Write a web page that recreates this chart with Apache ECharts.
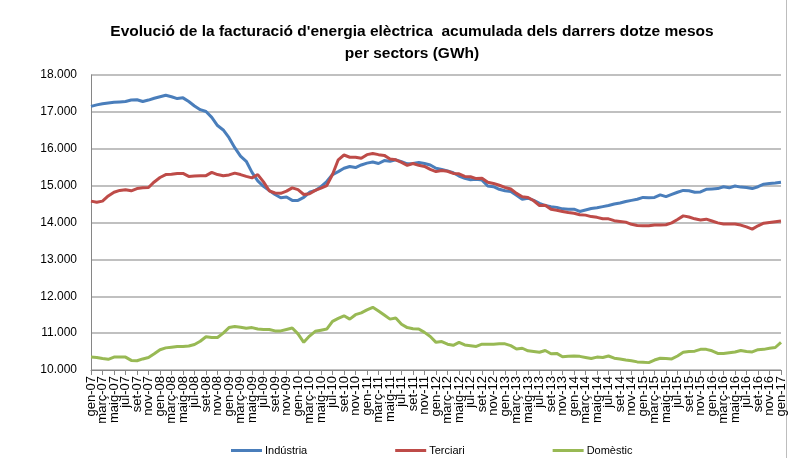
<!DOCTYPE html>
<html>
<head>
<meta charset="utf-8">
<script src="https://cdn.jsdelivr.net/npm/echarts@6/dist/echarts.min.js"></script>
<style>
html,body{margin:0;padding:0;background:#fff;}
#frame{position:absolute;left:0;top:0;width:787px;height:458px;border-right:1px solid #bdbdbd;box-sizing:border-box;}
#chart{position:absolute;left:0;top:0;width:790px;height:458px;}
</style>
</head>
<body>
<div id="frame"></div>
<div id="chart"></div>
<script>
// Month abbreviations (Catalan) and years for category labels
const monthNames = ['gen','febr','març','abr','maig','juny','jul','ag','set','oct','nov','des'];
const years = ['07','08','09','10','11','12','13','14','15','16','17'];
const categories = [];
years.forEach(function (y) {
  monthNames.forEach(function (m) {
    if (categories.length < 121) categories.push(m + '-' + y);
  });
});

const yTicks = [10000, 11000, 12000, 13000, 14000, 15000, 16000, 17000, 18000];

const industria = [
17150,17190,17220,17240,17260,17270,17280,17320,17330,17280,
17320,17370,17410,17450,17410,17360,17380,17280,17160,17060,
17010,16850,16630,16510,16300,16030,15800,15660,15360,15130,
14980,14870,14760,14670,14690,14600,14600,14680,14820,14870,
14970,15110,15300,15380,15470,15520,15490,15560,15610,15640,
15600,15680,15660,15700,15650,15590,15600,15630,15600,15560,
15470,15440,15400,15350,15260,15200,15160,15170,15150,14990,
14970,14900,14860,14840,14740,14630,14660,14600,14520,14460,
14430,14410,14370,14360,14360,14300,14340,14380,14400,14430,
14460,14500,14530,14570,14600,14630,14680,14670,14680,14750,
14700,14760,14820,14870,14860,14820,14830,14900,14910,14920,
14970,14940,14990,14960,14950,14920,14970,15040,15060,15070,
15090];

const terciari = [
14580,14550,14580,14720,14820,14870,14890,14860,14920,14940,
14950,15100,15220,15300,15310,15330,15330,15250,15260,15270,
15270,15360,15300,15270,15290,15340,15300,15250,15210,15300,
15100,14860,14800,14790,14850,14940,14890,14760,14780,14870,
14930,15000,15300,15700,15830,15770,15770,15740,15840,15870,
15840,15820,15720,15700,15630,15550,15600,15550,15520,15440,
15380,15410,15390,15330,15320,15250,15240,15190,15200,15090,
15060,15010,14950,14910,14790,14700,14680,14590,14460,14470,
14360,14330,14300,14270,14250,14210,14200,14160,14140,14100,
14100,14050,14030,14010,13950,13920,13910,13910,13930,13930,
13940,13990,14080,14180,14150,14100,14070,14090,14040,13990,
13960,13960,13960,13930,13880,13820,13910,13980,14000,14020,
14040];

const domestic = [
10350,10340,10310,10290,10350,10350,10350,10260,10250,10300,
10340,10440,10550,10600,10620,10640,10640,10650,10690,10780,
10900,10880,10880,11000,11150,11180,11160,11130,11150,11110,
11100,11100,11060,11060,11100,11140,10980,10750,10920,11050,
11080,11110,11320,11400,11470,11380,11500,11550,11630,11700,
11600,11490,11380,11410,11240,11150,11120,11110,11020,10910,
10750,10770,10700,10670,10750,10680,10660,10640,10700,10700,
10700,10710,10710,10660,10570,10590,10520,10500,10480,10530,
10440,10450,10360,10370,10380,10370,10340,10310,10350,10340,
10380,10320,10300,10270,10250,10220,10210,10200,10270,10320,
10310,10300,10380,10480,10500,10510,10560,10560,10520,10450,
10450,10470,10490,10530,10500,10490,10550,10560,10590,10610,
10750];

const seriesNames = ['Indústria', 'Terciari', 'Domèstic'];
const colors = ['#4A7EBB', '#BE4B48', '#98B954'];

const FONT = 'Liberation Sans';
const chart = echarts.init(document.getElementById('chart'), null, {renderer: 'canvas'});

function fmt(v) {
  const s = String(Math.round(v));
  return s.slice(0, s.length - 3) + '.' + s.slice(s.length - 3);
}

chart.setOption({
  animation: false,
  backgroundColor: 'transparent',
  title: {
    text: "Evolució de la facturació d'energia elèctrica  acumulada dels darrers dotze mesos\nper sectors (GWh)",
    left: 407,
    textAlign: 'center',
    top: 16,
    textStyle: {fontFamily: FONT, fontWeight: 'bold', fontSize: 15.5, color: '#000', lineHeight: 22}
  },
  legend: {
    data: seriesNames,
    left: 226,
    top: 440,
    itemGap: 88,
    itemWidth: 31,
    itemHeight: 3,
    icon: 'rect',
    textStyle: {fontFamily: FONT, fontSize: 11, color: '#000', padding: [0, 0, 0, -2]}
  },
  grid: {left: 91, right: 9, top: 75, bottom: 88, containLabel: false},
  xAxis: {
    type: 'category',
    data: categories,
    boundaryGap: false,
    axisLine: {lineStyle: {color: '#868686', width: 1}},
    axisTick: {interval: 1, length: 5, lineStyle: {color: '#868686'}},
    axisLabel: {
      interval: 0, rotate: 90, margin: 6, showMinLabel: true, showMaxLabel: true, hideOverlap: false,
      fontFamily: FONT, fontSize: 13, color: '#000',
      formatter: function (val, idx) { return idx % 2 === 0 ? val : ''; }
    },
    splitLine: {show: false}
  },
  yAxis: {
    type: 'value',
    min: yTicks[0],
    max: yTicks[yTicks.length - 1],
    interval: 1000,
    axisLine: {show: true, lineStyle: {color: '#868686', width: 1}},
    axisTick: {show: false},
    axisLabel: {margin: 14, fontFamily: FONT, fontSize: 12, color: '#000', formatter: fmt},
    splitLine: {lineStyle: {color: '#ABABAB', width: 1.5}}
  },
  series: [
    {name: seriesNames[0], type: 'line', data: industria, symbol: 'none', lineStyle: {width: 3, color: colors[0]}, itemStyle: {color: colors[0]}},
    {name: seriesNames[1], type: 'line', data: terciari, symbol: 'none', lineStyle: {width: 3, color: colors[1]}, itemStyle: {color: colors[1]}},
    {name: seriesNames[2], type: 'line', data: domestic, symbol: 'none', lineStyle: {width: 3, color: colors[2]}, itemStyle: {color: colors[2]}}
  ]
});
</script>
</body>
</html>
